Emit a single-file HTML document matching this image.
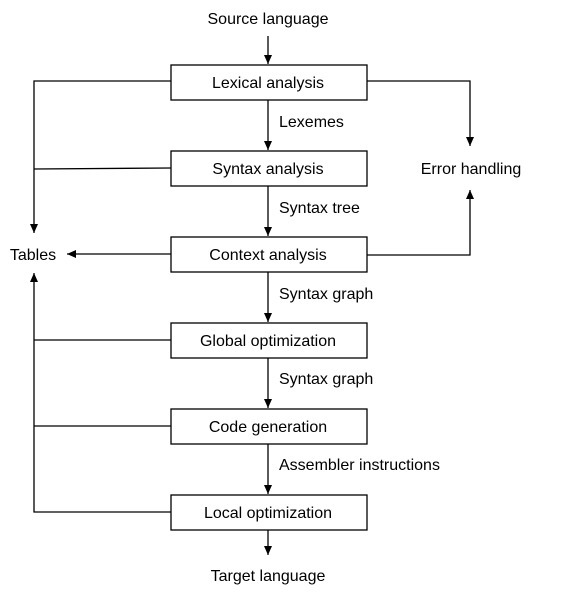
<!DOCTYPE html>
<html><head><meta charset="utf-8"><style>
html,body{margin:0;padding:0;background:#fff;}
svg{display:block;}
text{font-family:"Liberation Sans",sans-serif;font-size:16px;fill:#000;}
</style></head><body>
<svg width="570" height="593" viewBox="0 0 570 593" xmlns="http://www.w3.org/2000/svg">
<defs><marker id="a" markerWidth="10" markerHeight="10" refX="9" refY="4.5" orient="auto" markerUnits="userSpaceOnUse"><path d="M0,0.5 L9,4.5 L0,8.5 Z" fill="#000"/></marker></defs>
<g fill="none" stroke="#000" stroke-width="1.3">
<rect x="171" y="65" width="196" height="35"/>
<rect x="171" y="151" width="196" height="35"/>
<rect x="171" y="237" width="196" height="35"/>
<rect x="171" y="323" width="196" height="35"/>
<rect x="171" y="409" width="196" height="35"/>
<rect x="171" y="495" width="196" height="35"/>
<g marker-end="url(#a)">
<line x1="268" y1="36" x2="268" y2="64"/>
<line x1="268" y1="100" x2="268" y2="150"/>
<line x1="268" y1="186" x2="268" y2="236"/>
<line x1="268" y1="272" x2="268" y2="322"/>
<line x1="268" y1="358" x2="268" y2="408"/>
<line x1="268" y1="444" x2="268" y2="494"/>
<line x1="268" y1="530" x2="268" y2="555"/>
<polyline points="171,81 34,81 34,233"/>
<line x1="171" y1="254" x2="67" y2="254"/>
<polyline points="171,512 34,512 34,273"/>
<polyline points="367,81 470,81 470,146"/>
<polyline points="367,255 470,255 470,190"/>
</g>
<line x1="171" y1="168" x2="34" y2="169"/>
<line x1="171" y1="340" x2="34" y2="340"/>
<line x1="171" y1="426" x2="34" y2="426"/>
</g>
<g text-anchor="middle">
<text x="268" y="24">Source language</text>
<text x="268" y="88">Lexical analysis</text>
<text x="268" y="174">Syntax analysis</text>
<text x="268" y="260">Context analysis</text>
<text x="268" y="346">Global optimization</text>
<text x="268" y="432">Code generation</text>
<text x="268" y="518">Local optimization</text>
<text x="268" y="581">Target language</text>
<text x="33" y="260">Tables</text>
<text x="471" y="174">Error handling</text>
</g>
<text x="279" y="127">Lexemes</text>
<text x="279" y="213">Syntax tree</text>
<text x="279" y="299">Syntax graph</text>
<text x="279" y="384">Syntax graph</text>
<text x="279" y="470">Assembler instructions</text>
</svg>
</body></html>
